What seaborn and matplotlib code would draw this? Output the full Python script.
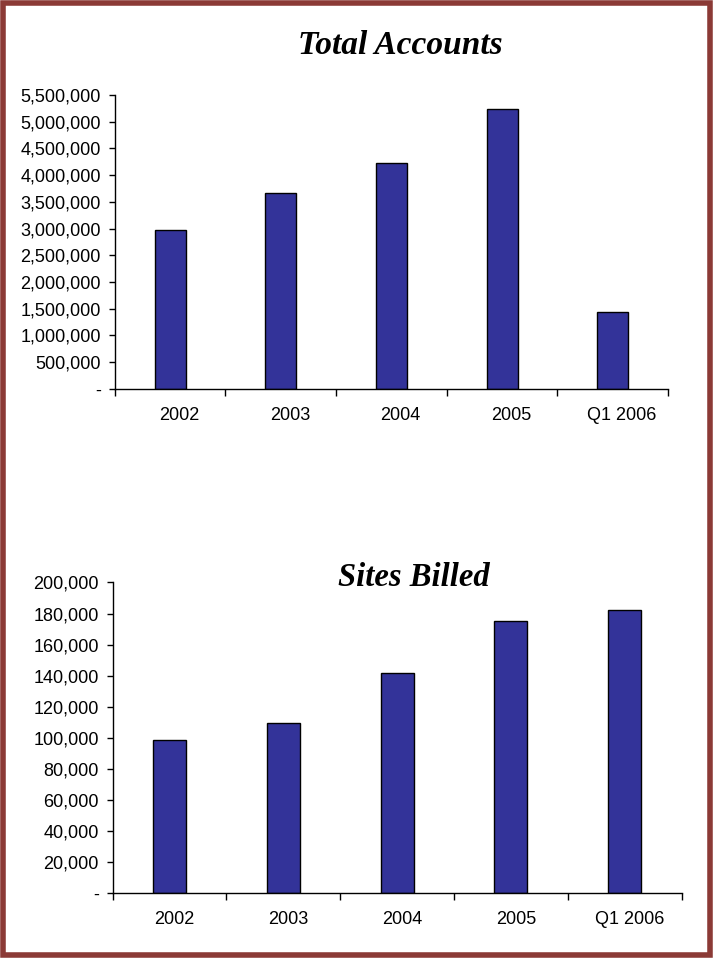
import numpy as np
import pandas as pd
import matplotlib
matplotlib.use("Agg")
import matplotlib.pyplot as plt
import matplotlib.transforms as mtransforms
from matplotlib.ticker import FuncFormatter, FixedLocator
from matplotlib.patches import Rectangle
import seaborn as sns

categories = ["2002", "2003", "2004", "2005", "Q1 2006"]
total_accounts = [2970000, 3660000, 4230000, 5230000, 1440000]
sites_billed = [98500, 109500, 141500, 175000, 182000]
acct_ticks = [0, 500000, 1000000, 1500000, 2000000, 2500000, 3000000,
              3500000, 4000000, 4500000, 5000000, 5500000]
site_ticks = [0, 20000, 40000, 60000, 80000, 100000, 120000, 140000,
              160000, 180000, 200000]

sns.set_style("white")
plt.rcParams['font.family'] = ['Liberation Sans', 'DejaVu Sans']
plt.rcParams['text.color'] = 'black'

fig = plt.figure(figsize=(7.13, 9.58), dpi=100)
ax1 = fig.add_axes([0.161, 0.594, 0.776, 0.307])
ax2 = fig.add_axes([0.158, 0.068, 0.798, 0.324])

bar_color = "#333399"

def fmt(v, pos):
    return "-" if v == 0 else f"{v:,.0f}"

def style(ax, ticks, label_dx):
    ax.set_ylim(0, ticks[-1])
    ax.yaxis.set_major_locator(FixedLocator(ticks))
    ax.yaxis.set_major_formatter(FuncFormatter(fmt))
    n = len(categories)
    ax.set_xlim(-0.5, n - 0.5)
    ax.set_xticks(np.arange(n))
    ax.set_xticklabels(categories)
    ax.set_xticks(np.arange(-0.5, n, 1.0), minor=True)
    ax.tick_params(axis="x", which="major", length=0, pad=13, labelsize=13,
                   bottom=True, colors="black", labelcolor="black")
    ax.tick_params(axis="x", which="minor", length=5, width=1, direction="out",
                   bottom=True, color="black")
    ax.tick_params(axis="y", length=4, width=1, direction="out", pad=6, labelsize=13,
                   left=True, color="black", labelcolor="black")
    offset = mtransforms.ScaledTranslation(label_dx / 100.0, 0, fig.dpi_scale_trans)
    for lbl in ax.get_xticklabels():
        lbl.set_transform(lbl.get_transform() + offset)
    for s in ["top", "right"]:
        ax.spines[s].set_visible(False)
    for s in ["left", "bottom"]:
        ax.spines[s].set_color("black")
        ax.spines[s].set_linewidth(1.0)
    ax.set_xlabel("")
    ax.set_ylabel("")

df1 = pd.DataFrame({"cat": categories, "val": total_accounts})
sns.barplot(data=df1, x="cat", y="val", color=bar_color, saturation=1,
            edgecolor="black", linewidth=1, width=0.28, ax=ax1)
style(ax1, acct_ticks, 9)

df2 = pd.DataFrame({"cat": categories, "val": sites_billed})
sns.barplot(data=df2, x="cat", y="val", color=bar_color, saturation=1,
            edgecolor="black", linewidth=1, width=0.29, ax=ax2)
style(ax2, site_ticks, 5)

fig.text(0.561, 0.952, "Total Accounts", ha="center", va="center", color="black",
         family=["Liberation Serif", "DejaVu Serif"], weight="bold", style="italic", fontsize=24)
fig.text(0.580, 0.397, "Sites Billed", ha="center", va="center", color="black",
         family=["Liberation Serif", "DejaVu Serif"], weight="bold", style="italic", fontsize=23.5)

fig.patches.append(Rectangle((0.004, 0.003), 0.992, 0.994, transform=fig.transFigure,
                             fill=False, edgecolor="#8B3A36", linewidth=4))

fig.savefig("out.png", dpi=100, facecolor="white")
